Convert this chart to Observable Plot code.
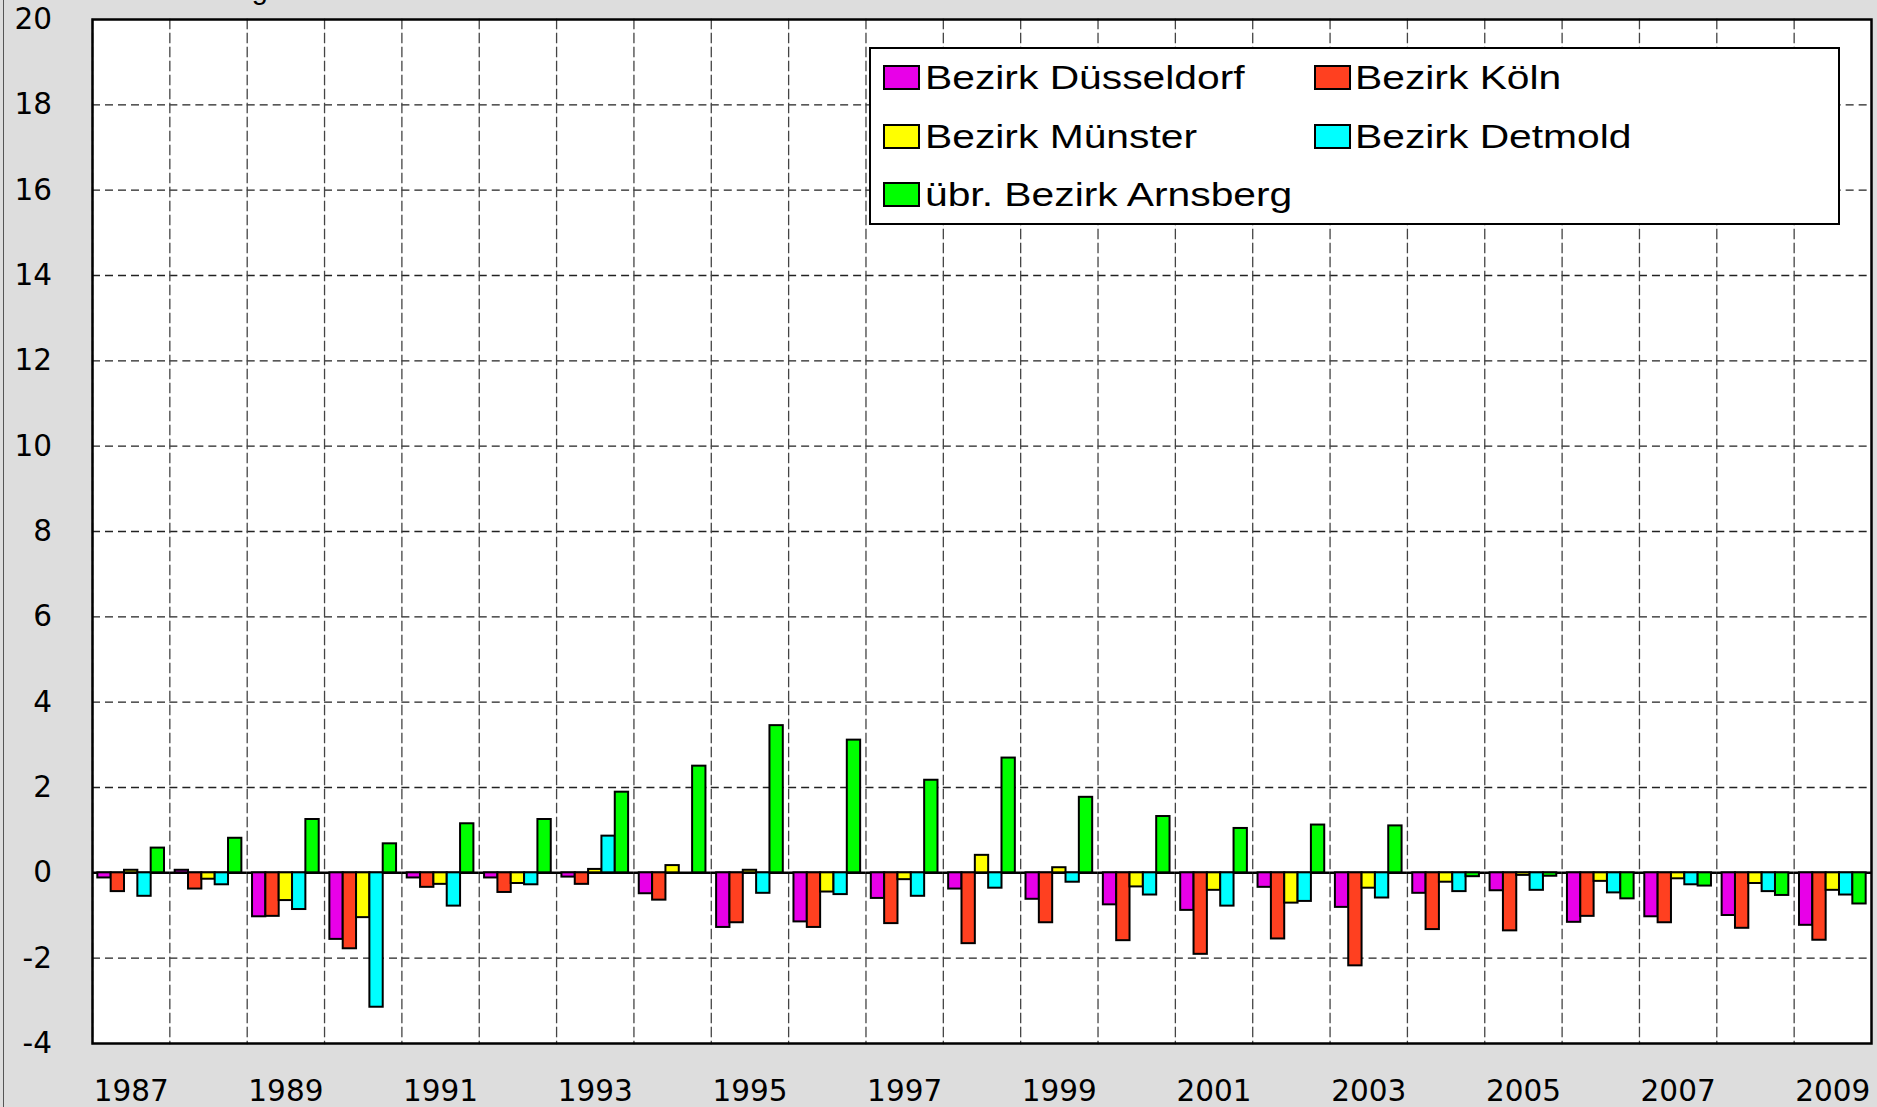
<!DOCTYPE html>
<html>
<head>
<meta charset="utf-8">
<script src="https://cdn.jsdelivr.net/npm/d3@7"></script>
<script src="https://cdn.jsdelivr.net/npm/@observablehq/plot@0.6"></script>
<style>
  html, body { margin: 0; padding: 0; background: #dddddd; }
  #wrap { position: relative; width: 1877px; height: 1107px; overflow: hidden; font-family: 'Liberation Sans', Arial, sans-serif; }
  #wrap > svg { position: absolute; left: 0; top: 0; }
  #edge { position: absolute; left: 3px; top: 0; width: 1px; height: 1107px; background: #555; }
  #legend { position: absolute; left: 869px; top: 47px; width: 971px; height: 178px; box-sizing: border-box; border: 2.5px solid #000; background: #fff; }
  .sw { position: absolute; width: 37px; height: 25px; box-sizing: border-box; border: 2.5px solid #000; }
  .lt { position: absolute; font-size: 32.5px; line-height: 1; white-space: nowrap; color: #000; transform: scaleX(1.255); transform-origin: 0 50%; }
  #cut { position: absolute; left: 0; top: 0; width: 400px; height: 8px; overflow: hidden; }
  #cut span { position: absolute; right: 132px; top: -25px; font-size: 29px; line-height: 1; white-space: nowrap; }
</style>
</head>
<body>
<div id="wrap">
  <div id="edge"></div>
  <div id="cut"><span>Veränderung</span></div>
  <div id="legend"></div>
</div>
<script>
const years = [1987,1988,1989,1990,1991,1992,1993,1994,1995,1996,1997,1998,1999,2000,2001,2002,2003,2004,2005,2006,2007,2008,2009];
const tickYears = [1987,1989,1991,1993,1995,1997,1999,2001,2003,2005,2007,2009];
const yTicks = [-4,-2,0,2,4,6,8,10,12,14,16,18,20];
const gridTicks = [-2,0,2,4,6,8,10,12,14,16,18];
const series = ["Bezirk Düsseldorf","Bezirk Köln","Bezirk Münster","Bezirk Detmold","übr. Bezirk Arnsberg"];
const colors = ["#e800e8","#ff4020","#ffff00","#00ffff","#00ff00"];

const duesseldorf = [-0.12,0.06,-1.03,-1.56,-0.12,-0.12,-0.10,-0.49,-1.28,-1.15,-0.60,-0.38,-0.62,-0.75,-0.88,-0.34,-0.81,-0.48,-0.42,-1.16,-1.03,-1.00,-1.23];
const koeln       = [-0.44,-0.38,-1.02,-1.78,-0.34,-0.46,-0.27,-0.64,-1.17,-1.28,-1.19,-1.66,-1.17,-1.59,-1.91,-1.55,-2.18,-1.33,-1.36,-1.02,-1.17,-1.30,-1.58];
const muenster    = [0.06,-0.15,-0.65,-1.05,-0.27,-0.25,0.08,0.17,0.06,-0.45,-0.16,0.41,0.12,-0.33,-0.41,-0.71,-0.36,-0.22,-0.06,-0.20,-0.14,-0.25,-0.41];
const detmold     = [-0.55,-0.28,-0.86,-3.15,-0.78,-0.28,0.86,0.00,-0.48,-0.51,-0.55,-0.36,-0.22,-0.52,-0.78,-0.67,-0.59,-0.44,-0.41,-0.47,-0.28,-0.44,-0.52];
const arnsberg    = [0.58,0.81,1.25,0.68,1.15,1.25,1.89,2.50,3.45,3.11,2.17,2.69,1.77,1.32,1.04,1.12,1.10,-0.09,-0.08,-0.61,-0.31,-0.53,-0.73];

const seriesValues = [duesseldorf, koeln, muenster, detmold, arnsberg];
const data = [];
years.forEach((yr, i) => {
  series.forEach((s, j) => data.push({year: yr, series: s, value: seriesValues[j][i]}));
});

const chart = Plot.plot({
  width: 1877,
  height: 1107,
  marginLeft: 92,
  marginRight: 6,
  marginTop: 19,
  marginBottom: 64,
  style: {background: "transparent", fontFamily: "'DejaVu Sans', sans-serif", fontSize: "29.5px", color: "#000", overflow: "visible"},
  fx: {domain: years, padding: 0, round: false, label: null, tickSize: 0, tickPadding: 37,
       tickFormat: d => tickYears.includes(d) ? String(d) : ""},
  x: {domain: series, paddingInner: 0, paddingOuter: 0.4, round: false, axis: null},
  y: {domain: [-4, 20], ticks: yTicks, tickSize: 0, tickPadding: 40.5, label: null, tickFormat: d => String(d)},
  color: {domain: series, range: colors},
  marks: [
    Plot.frame({fill: "white", stroke: "none"}),
    Plot.gridY(gridTicks, {stroke: "#222", strokeOpacity: 1, strokeWidth: 1.3, strokeDasharray: "8,5"}),
    Plot.frame({anchor: "left", stroke: "#444", strokeWidth: 1.3, strokeDasharray: "9,5"}),
    Plot.ruleY([0], {stroke: "#000", strokeWidth: 2.5}),
    Plot.barY(data, {fx: "year", x: "series", y: "value", fill: "series", stroke: "#000", strokeWidth: 2}),
    Plot.frame({facet: "super", stroke: "#000", strokeWidth: 2.5})
  ]
});
document.getElementById("wrap").prepend(chart);

const legend = document.getElementById("legend");
series.forEach((s, i) => {
  const col = i % 2, row = Math.floor(i / 2);
  const left = 12 + col * 430.5;
  const top = 16 + row * 58.7;
  const sw = document.createElement("div");
  sw.className = "sw";
  sw.style.left = left + "px";
  sw.style.top = top + "px";
  sw.style.background = colors[i];
  legend.appendChild(sw);
  const t = document.createElement("div");
  t.className = "lt";
  t.style.left = (left + 41.5) + "px";
  t.style.top = (top - 3) + "px";
  t.textContent = s;
  legend.appendChild(t);
});
</script>
</body>
</html>
